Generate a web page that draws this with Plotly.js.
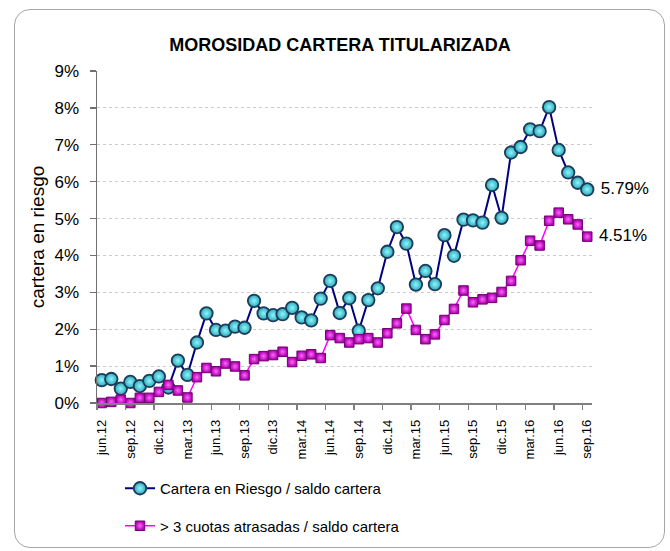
<!DOCTYPE html>
<html>
<head>
<meta charset="utf-8">
<script src="https://cdn.plot.ly/plotly-3.0.1.min.js"></script>
<style>
  html, body { margin: 0; padding: 0; background: #ffffff; }
  #wrap { position: relative; width: 670px; height: 551px; }
  #chart { position: absolute; left: 0; top: 0; width: 670px; height: 551px; }
  #frame { position: absolute; left: 14px; top: 9px; width: 649px; height: 537px;
           border: 1.5px solid #a6a6a6; border-radius: 16px; pointer-events: none; }
</style>
</head>
<body>
<div id="wrap">
  <div id="chart"></div>
  <div id="frame"></div>
</div>
<script>
const months = [
  "jun.12","jul.12","ago.12","sep.12","oct.12","nov.12","dic.12",
  "ene.13","feb.13","mar.13","abr.13","may.13","jun.13","jul.13","ago.13","sep.13","oct.13","nov.13","dic.13",
  "ene.14","feb.14","mar.14","abr.14","may.14","jun.14","jul.14","ago.14","sep.14","oct.14","nov.14","dic.14",
  "ene.15","feb.15","mar.15","abr.15","may.15","jun.15","jul.15","ago.15","sep.15","oct.15","nov.15","dic.15",
  "ene.16","feb.16","mar.16","abr.16","may.16","jun.16","jul.16","ago.16","sep.16"
];
const tickLabels = ["jun.12","sep.12","dic.12","mar.13","jun.13","sep.13","dic.13","mar.14","jun.14",
  "sep.14","dic.14","mar.15","jun.15","sep.15","dic.15","mar.16","jun.16","sep.16"];

const carteraRiesgo = [0.62,0.65,0.39,0.57,0.46,0.60,0.72,0.42,1.15,0.76,1.64,2.43,1.98,1.96,2.07,2.04,
  2.77,2.43,2.38,2.41,2.58,2.32,2.24,2.83,3.31,2.44,2.84,1.96,2.79,3.11,4.10,4.77,4.32,3.21,3.58,3.22,
  4.55,3.99,4.97,4.95,4.89,5.91,5.02,6.79,6.94,7.42,7.37,8.02,6.86,6.25,5.97,5.79];
const cuotasAtrasadas = [0.00,0.03,0.09,0.00,0.14,0.14,0.30,0.49,0.34,0.15,0.70,0.95,0.86,1.07,0.99,0.75,
  1.19,1.27,1.30,1.39,1.11,1.28,1.32,1.22,1.84,1.76,1.64,1.73,1.76,1.64,1.89,2.16,2.56,1.98,1.73,1.86,
  2.25,2.55,3.05,2.73,2.81,2.85,3.01,3.31,3.87,4.40,4.27,4.94,5.16,4.98,4.84,4.51];

const seriesNames = ["Cartera en Riesgo / saldo cartera", "> 3 cuotas atrasadas / saldo cartera"];

function lastLabel(arr) {
  return arr.map((v, i) => i === arr.length - 1 ? " " + v.toFixed(2) + "%" : "");
}

const font = "Arial, 'Liberation Sans', sans-serif";

const traces = [
  {
    x: months, y: carteraRiesgo, name: seriesNames[0], type: "scatter", mode: "lines+markers+text",
    text: lastLabel(carteraRiesgo), textposition: "middle right",
    textfont: {family: font, size: 17, color: "#000000"},
    line: {color: "#000080", width: 2},
    marker: {symbol: "circle", size: 12.5, color: "#2aa7b5",
             gradient: {type: "radial", color: "#8ff5ff"},
             line: {color: "#1d3b5a", width: 1.8}},
    cliponaxis: false, legendgroup: "a", hoverinfo: "x+y"
  },
  {
    x: months, y: cuotasAtrasadas, name: seriesNames[1], type: "scatter", mode: "lines+markers+text",
    text: lastLabel(cuotasAtrasadas), textposition: "middle right",
    textfont: {family: font, size: 17, color: "#000000"},
    line: {color: "#ff00ff", width: 1.5},
    marker: {symbol: "square", size: 9.5, color: "#b000b0",
             gradient: {type: "radial", color: "#ff66ff"},
             line: {color: "#700070", width: 1}},
    cliponaxis: false, legendgroup: "b", hoverinfo: "x+y"
  },
  {
    x: [], y: [], xaxis: "x2", yaxis: "y", type: "scatter", mode: "markers",
    showlegend: false, hoverinfo: "skip"
  }
];

const boundaryTicks = tickLabels.map((_, k) => 3 * k - 0.5);

const layout = {
  width: 670, height: 551,
  paper_bgcolor: "#ffffff", plot_bgcolor: "#ffffff",
  margin: {l: 97, r: 78, t: 71, b: 148, pad: 0, autoexpand: false},
  font: {family: font, color: "#000000"},
  title: {
    text: "<b>MOROSIDAD CARTERA TITULARIZADA</b>",
    font: {family: font, size: 18, color: "#000000"},
    x: 340 / 670, xref: "container", xanchor: "center",
    y: 1 - 45 / 551, yref: "container", yanchor: "middle"
  },
  xaxis: {
    type: "category", range: [-0.5, 51.5],
    tickmode: "array", tickvals: tickLabels, ticktext: tickLabels,
    tickangle: -90, tickfont: {family: font, size: 13, color: "#000000"},
    ticks: "", showline: true, linecolor: "#808080", linewidth: 1.5,
    showgrid: false, zeroline: false, ticklabelstandoff: 10
  },
  xaxis2: {
    overlaying: "x", anchor: "y", side: "bottom", type: "linear", range: [-0.5, 51.5],
    tickmode: "array", tickvals: boundaryTicks, ticks: "outside", ticklen: 6,
    tickcolor: "#808080", tickwidth: 1.3, showticklabels: false, showline: false,
    showgrid: false, zeroline: false
  },
  yaxis: {
    range: [0, 9], dtick: 1, tick0: 0, ticksuffix: "%",
    tickfont: {family: font, size: 17, color: "#000000"},
    ticks: "outside", ticklen: 6, tickcolor: "#707070", tickwidth: 1.3,
    showline: true, linecolor: "#707070", linewidth: 1.5,
    showgrid: true, gridcolor: "#cccccc", griddash: "dot", gridwidth: 1,
    zeroline: false, ticklabelstandoff: 7,
    title: {text: "cartera en riesgo", font: {family: font, size: 19, color: "#000000"}, standoff: 5}
  },
  legend: {
    orientation: "v", x: (120 - 97) / 495, xanchor: "left",
    y: (403 - 472) / 332, yanchor: "top",
    font: {family: font, size: 15, color: "#000000"},
    tracegroupgap: 15, bgcolor: "rgba(0,0,0,0)"
  },
  showlegend: true
};

Plotly.newPlot("chart", traces, layout, {displayModeBar: false, staticPlot: true});
</script>
</body>
</html>
